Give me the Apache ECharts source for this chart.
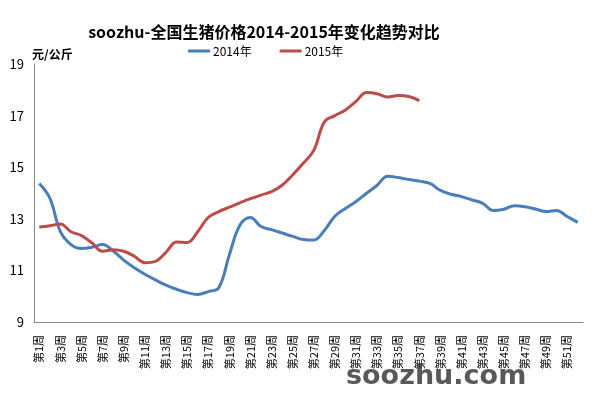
<!DOCTYPE html>
<html>
<head>
<meta charset="utf-8">
<script src="https://cdn.jsdelivr.net/npm/echarts@6/dist/echarts.min.js"></script>
<style>
  html, body { margin: 0; padding: 0; background: #fff; }
  #chart { width: 595px; height: 398px; }
</style>
</head>
<body>
<div id="chart"></div>
<script>
const weeks = [];
for (let i = 1; i <= 52; i++) weeks.push('第' + i + '周');

const price2014 = [
  14.37, 13.8, 12.5, 12.0, 11.85, 11.9, 12.0, 11.75, 11.4, 11.1,
  10.85, 10.63, 10.43, 10.27, 10.14, 10.07, 10.18, 10.33, 11.6, 12.75,
  13.05, 12.7, 12.58, 12.45, 12.32, 12.2, 12.18, 12.55, 13.1, 13.4,
  13.67, 13.99, 14.3, 14.65, 14.6, 14.52, 14.46, 14.37, 14.1, 13.95,
  13.86, 13.73, 13.6, 13.32, 13.37, 13.51, 13.47, 13.38, 13.28, 13.32,
  13.09, 12.86
];

const price2015 = [
  12.68, 12.73, 12.8, 12.5, 12.35, 12.06, 11.74, 11.8, 11.74, 11.55,
  11.3, 11.35, 11.7, 12.1, 12.08, 12.5, 13.05, 13.28, 13.45, 13.62,
  13.78, 13.92, 14.05, 14.3, 14.7, 15.15, 15.65, 16.75, 17.0, 17.22,
  17.55, 17.9, 17.85, 17.72, 17.78, 17.74, 17.58
];

const chart = echarts.init(document.getElementById('chart'));

chart.setOption({
  animation: false,
  textStyle: { fontFamily: '"Noto Sans CJK SC", "DejaVu Sans", sans-serif' },
  title: {
    text: 'soozhu-全国生猪价格2014-2015年变化趋势对比',
    left: 259,
    textAlign: 'center',
    top: 19,
    textStyle: { fontSize: 16, fontWeight: 'bold', color: '#000' }
  },
  legend: {
    top: 40,
    left: 183,
    itemGap: 28,
    itemWidth: 22,
    itemHeight: 3,
    icon: 'rect',
    textStyle: { fontSize: 12, color: '#000', padding: [0, 0, 0, -2] },
    data: ['2014年', '2015年']
  },
  grid: { left: 34, right: 12, top: 64, bottom: 76 },
  xAxis: {
    type: 'category',
    data: weeks,
    boundaryGap: true,
    axisLine: { lineStyle: { color: '#868686' } },
    axisTick: { show: false },
    axisLabel: { interval: 1, rotate: 90, fontSize: 11, color: '#000', margin: 13 }
  },
  yAxis: {
    type: 'value',
    min: 9,
    max: 19,
    interval: 2,
    name: '元/公斤',
    nameGap: 4,
    nameTextStyle: { fontSize: 12, fontWeight: 'bold', color: '#000', align: 'left', padding: [0, 0, 0, -2] },
    axisLine: { show: true, lineStyle: { color: '#868686' } },
    axisTick: { show: false },
    splitLine: { show: false },
    axisLabel: { fontSize: 13, color: '#000', margin: 10 }
  },
  series: [
    {
      name: '2014年',
      type: 'line',
      data: price2014,
      smooth: 0.4,
      symbol: 'none',
      color: '#4A7EBB',
      lineStyle: { width: 3, color: '#4A7EBB' }
    },
    {
      name: '2015年',
      type: 'line',
      data: price2015,
      smooth: 0.4,
      symbol: 'none',
      color: '#BE4B48',
      lineStyle: { width: 3, color: '#BE4B48' }
    }
  ],
  graphic: [
    {
      type: 'text',
      left: 346,
      top: 363,
      z: 100,
      style: {
        text: 'soozhu.com',
        fontSize: 27,
        fontWeight: 'bold',
        fill: 'rgba(60,60,60,0.85)',
        fontFamily: '"DejaVu Sans", sans-serif'
      }
    }
  ]
});
</script>
</body>
</html>
